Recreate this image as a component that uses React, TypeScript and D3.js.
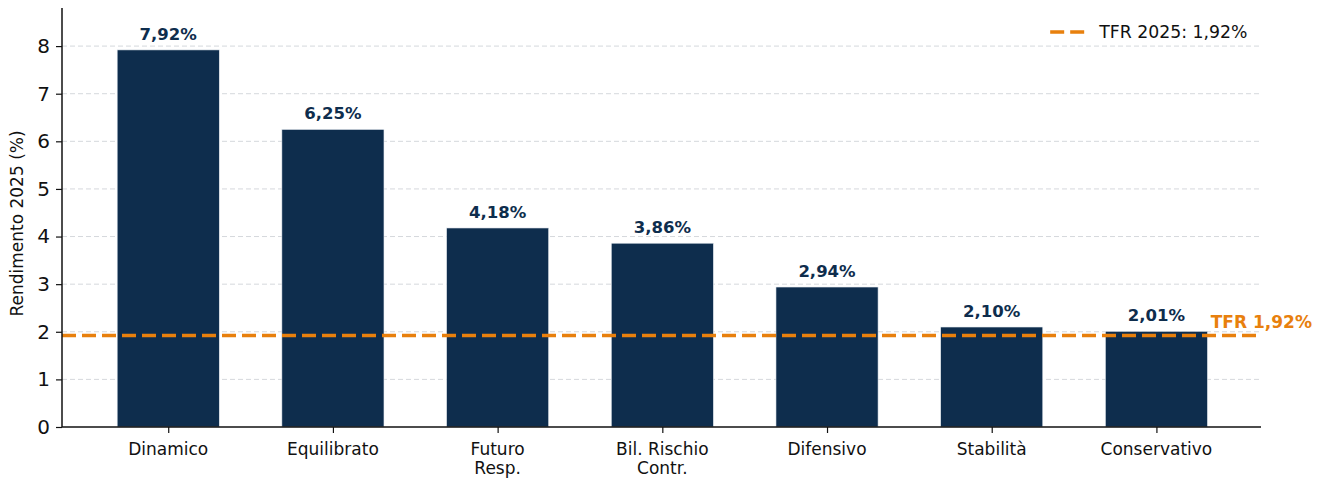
import { useEffect, useRef } from 'react'
import * as d3 from 'd3'

const categories = ['Dinamico', 'Equilibrato', 'Futuro\nResp.', 'Bil. Rischio\nContr.', 'Difensivo', 'Stabilità', 'Conservativo']
const returns = [7.92, 6.25, 4.18, 3.86, 2.94, 2.10, 2.01]
const valueLabels = ['7,92%', '6,25%', '4,18%', '3,86%', '2,94%', '2,10%', '2,01%']
const yTicks = [0, 1, 2, 3, 4, 5, 6, 7, 8]
const tfrValue = 1.92
const tfrLegend = 'TFR 2025: 1,92%'
const tfrLabel = 'TFR 1,92%'

const width = 1325
const height = 478
const navy = '#0e2d4d'
const orange = '#e8800d'
const font = 'DejaVu Sans, sans-serif'

export default function App() {
  const svgRef = useRef<SVGSVGElement>(null)

  useEffect(() => {
    if (!svgRef.current) return
    d3.select(svgRef.current).selectAll('*').remove()

    const margin = { top: 8, right: 64, bottom: 51, left: 62 }
    const innerWidth = width - margin.left - margin.right
    const innerHeight = height - margin.top - margin.bottom

    const svg = d3.select(svgRef.current)
      .append('g')
      .attr('transform', `translate(${margin.left},${margin.top})`)

    // categorical positions as numeric indices, like matplotlib
    const x = d3.scaleLinear().domain([-0.645, 6.635]).range([0, innerWidth])
    const y = d3.scaleLinear().domain([0, 8.8]).range([innerHeight, 0])
    const barW = x(0.62) - x(0)

    // grid
    svg.append('g')
      .selectAll('line')
      .data(yTicks.slice(1))
      .join('line')
      .attr('x1', 0)
      .attr('x2', innerWidth)
      .attr('y1', d => y(d))
      .attr('y2', d => y(d))
      .attr('stroke', '#d5d8dc')
      .attr('stroke-width', 1)
      .attr('stroke-dasharray', '5,3')

    // bars
    svg.append('g')
      .selectAll('rect')
      .data(returns)
      .join('rect')
      .attr('x', (_, i) => x(i) - barW / 2)
      .attr('y', d => y(d))
      .attr('width', barW)
      .attr('height', d => y(0) - y(d))
      .attr('fill', navy)
      .attr('stroke', '#e8edf2')
      .attr('stroke-width', 0.6)

    // value labels
    svg.append('g')
      .selectAll('text')
      .data(returns)
      .join('text')
      .attr('x', (_, i) => x(i))
      .attr('y', d => y(d) - 10)
      .attr('text-anchor', 'middle')
      .attr('font-family', font)
      .attr('font-size', 16.5)
      .attr('font-weight', 'bold')
      .attr('fill', navy)
      .text((_, i) => valueLabels[i])

    // TFR reference line
    svg.append('line')
      .attr('x1', 0)
      .attr('x2', innerWidth)
      .attr('y1', y(tfrValue))
      .attr('y2', y(tfrValue))
      .attr('stroke', orange)
      .attr('stroke-width', 3.5)
      .attr('stroke-dasharray', '14,6')

    svg.append('text')
      .attr('x', x(6.33))
      .attr('y', y(tfrValue) - 8)
      .attr('font-family', font)
      .attr('font-size', 17)
      .attr('font-weight', 'bold')
      .attr('fill', orange)
      .text(tfrLabel)

    // axes
    const yAxis = svg.append('g')
      .call(d3.axisLeft(y).tickValues(yTicks).tickFormat(d3.format('d')).tickSize(6).tickPadding(6))
    yAxis.select('.domain').attr('d', `M0,0V${innerHeight}`).attr('stroke', '#111').attr('stroke-width', 1.5)
    yAxis.selectAll('.tick line').attr('stroke', '#111').attr('stroke-width', 1.2)
    yAxis.selectAll('.tick text')
      .attr('font-family', font)
      .attr('font-size', 20)
      .attr('fill', '#111')

    const xAxis = svg.append('g')
      .attr('transform', `translate(0,${innerHeight})`)
      .call(d3.axisBottom(x).tickValues(d3.range(categories.length)).tickFormat(() => '').tickSize(6))
    xAxis.select('.domain').attr('d', `M0,0H${innerWidth}`).attr('stroke', '#111').attr('stroke-width', 1.5)
    xAxis.selectAll('.tick line').attr('stroke', '#111').attr('stroke-width', 1.2)

    const xLabels = svg.append('g')
      .selectAll('text')
      .data(categories)
      .join('text')
      .attr('x', (_, i) => x(i))
      .attr('y', innerHeight + 28)
      .attr('text-anchor', 'middle')
      .attr('font-family', font)
      .attr('font-size', 17)
      .attr('fill', '#111')
    xLabels.selectAll('tspan')
      .data(d => d.split('\n'))
      .join('tspan')
      .attr('x', function () { return (this.parentNode as SVGTextElement).getAttribute('x') })
      .attr('dy', (_, i) => (i === 0 ? 0 : 19))
      .text(d => d)

    // y axis title
    svg.append('text')
      .attr('transform', `translate(${-39},${innerHeight / 2 + 6}) rotate(-90)`)
      .attr('text-anchor', 'middle')
      .attr('font-family', font)
      .attr('font-size', 17)
      .attr('fill', '#111')
      .text('Rendimento 2025 (%)')

    // legend
    const legend = svg.append('g').attr('transform', `translate(${x(5.355)},${24})`)
    legend.append('line')
      .attr('x1', 0)
      .attr('x2', 36)
      .attr('y1', 0)
      .attr('y2', 0)
      .attr('stroke', orange)
      .attr('stroke-width', 3.5)
      .attr('stroke-dasharray', '14,6')
    legend.append('text')
      .attr('x', 49)
      .attr('y', 6)
      .attr('font-family', font)
      .attr('font-size', 17.3)
      .attr('fill', '#111')
      .text(tfrLegend)
  }, [])

  return (
    <div style={{ width, height }}>
      <svg ref={svgRef} width={width} height={height} style={{ position: 'absolute', left: 0, top: 0 }} />
    </div>
  )
}
